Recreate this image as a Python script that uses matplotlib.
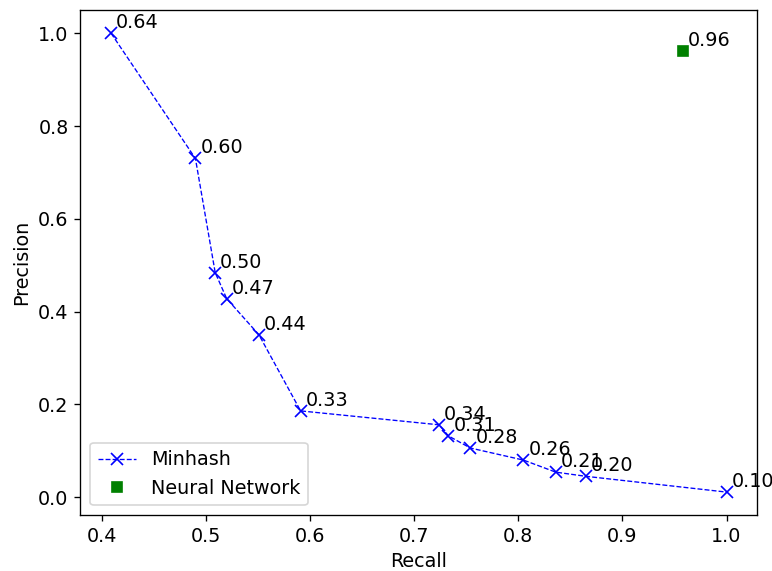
import matplotlib.pyplot as plt

plt.rcParams['font.size'] = 11.5

# minhash precision / recall for each threshold
recall = [0.409, 0.490, 0.509, 0.520, 0.551, 0.591, 0.724, 0.733, 0.754, 0.805, 0.836, 0.865, 1.0]
precision = [1.0, 0.730, 0.484, 0.428, 0.350, 0.186, 0.156, 0.132, 0.106, 0.080, 0.054, 0.045, 0.011]
thresholds = ["0.64", "0.60", "0.50", "0.47", "0.44", "0.33", "0.34", "0.31", "0.28", "0.26", "0.21", "0.20", "0.10"]

nn_recall = [0.958]
nn_precision = [0.961]
nn_labels = ["0.96"]

fig = plt.figure(figsize=(772 / 120, 571 / 120), dpi=120)
ax = fig.add_axes([0.104, 0.098, 0.877, 0.884])

ax.plot(recall, precision, color='b', linestyle='--', linewidth=0.8, marker='x', markersize=7, label="Minhash")
ax.plot(nn_recall, nn_precision, 's', color='g', markersize=6.5, label="Neural Network")

for x, y, t in zip(recall, precision, thresholds):
    ax.annotate(t, (x, y), xytext=(3, 3), textcoords='offset points')
for x, y, t in zip(nn_recall, nn_precision, nn_labels):
    ax.annotate(t, (x, y), xytext=(3, 3), textcoords='offset points')

ax.set_xlabel("Recall")
ax.set_ylabel("Precision")
ax.legend(loc='lower left')

fig.savefig("out.png", dpi=120)
